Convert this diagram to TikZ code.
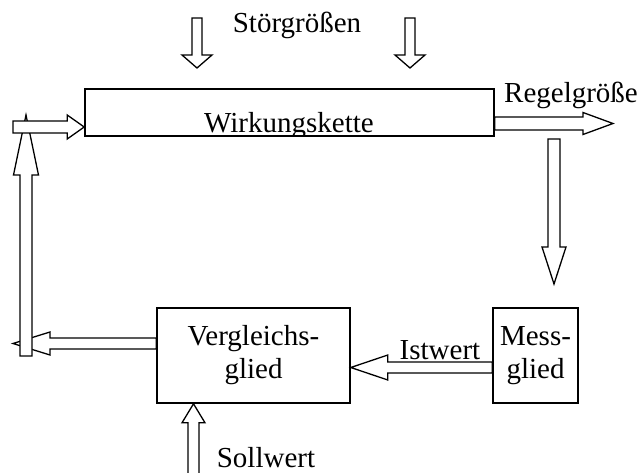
\documentclass[tikz,border=0pt]{standalone}
\usepackage{fontspec}
\setmainfont{Liberation Serif}
\usetikzlibrary{calc}
\tikzset{
  blk/.style={draw, line width=1.6pt, fill=white, inner sep=0pt, align=center},
  barrow/.style={draw, line width=1.3pt, fill=white, line join=miter},
  lbl/.style={inner sep=0pt, anchor=base}
}
% #1 start, #2 tip, #3 shaft half width, #4 head half width, #5 head length
\newcommand\blockarrow[5]{%
  \coordinate (ba-h) at ($(#2)!#5!(#1)$);
  \draw[barrow] ($(#1)!#3!90:(#2)$) -- ($(ba-h)!#3!-90:(#1)$) -- ($(ba-h)!#4!-90:(#1)$) -- (#2)
     -- ($(ba-h)!#4!90:(#1)$) -- ($(ba-h)!#3!90:(#1)$) -- ($(#1)!#3!-90:(#2)$) -- cycle;
}
\begin{document}
\begin{tikzpicture}[x=1pt,y=-1pt, font=\fontsize{29}{33}\selectfont]
\useasboundingbox (0,0) rectangle (640,473);
% boxes
\node[blk, minimum width=409pt, minimum height=47pt] (wk) at (289.5,112.5) {};
\begin{scope}
  \clip (wk.south west) rectangle (wk.north east);
  \node[lbl] (wkt) at (289,133) {Wirkungskette};
\end{scope}
\node[blk, minimum width=193pt, minimum height=95pt] (vg) at (253.5,355.5) {};
\node[lbl] (vgt1) at (253.5,345) {Vergleichs-};
\node[lbl] (vgt2) at (253.5,378) {glied};
\node[blk, minimum width=85pt, minimum height=95pt] (mg) at (535.5,355.5) {};
\node[lbl] (mgt1) at (535.5,345) {Mess-};
\node[lbl] (mgt2) at (535.5,378) {glied};
% coordinates
\coordinate (sg1a) at (197,18);   \coordinate (sg1b) at (197,68);
\coordinate (sg2a) at (410,18);   \coordinate (sg2b) at (410,68);
\coordinate (rgEnd) at (613,123.5);
\coordinate (rgStart) at (wk.east |- rgEnd);
\coordinate (dnA) at (554,139);   \coordinate (dnB) at (554,284);
\coordinate (istA) at (mg.west |- 0,367.5);
\coordinate (istB) at (vg.east |- 0,367.5);
\coordinate (blA) at (vg.west |- 0,343.5);
\coordinate (blB) at (13,343.5);
\coordinate (lvA) at (26,356);    \coordinate (lvB) at (26,115);
\coordinate (tlA) at (13,127);
\coordinate (tlB) at (wk.west |- tlA);
\coordinate (swA) at (193.5,474);
\coordinate (swB) at (vg.south -| swA);
% arrows
\blockarrow{sg1a}{sg1b}{5pt}{15pt}{13pt}
\blockarrow{sg2a}{sg2b}{5pt}{15pt}{13pt}
\blockarrow{rgStart}{rgEnd}{6.5pt}{11pt}{30pt}
\blockarrow{dnA}{dnB}{6pt}{12pt}{37pt}
\blockarrow{istA}{istB}{5.5pt}{12.5pt}{37pt}
\blockarrow{blA}{blB}{5.5pt}{11.5pt}{37pt}
\blockarrow{lvA}{lvB}{6pt}{12.5pt}{60pt}
\blockarrow{tlA}{tlB}{6pt}{12pt}{17pt}
\blockarrow{swA}{swB}{5.5pt}{11.5pt}{19pt}
% labels
\node[lbl] (sgl) at (297,33) {Störgrößen};
\node[lbl] (rgl) at (571,103) {Regelgröße};
\node[lbl] (istl) at (440,359) {Istwert};
\node[lbl] (swl) at (266,467) {Sollwert};
\end{tikzpicture}
\end{document}
